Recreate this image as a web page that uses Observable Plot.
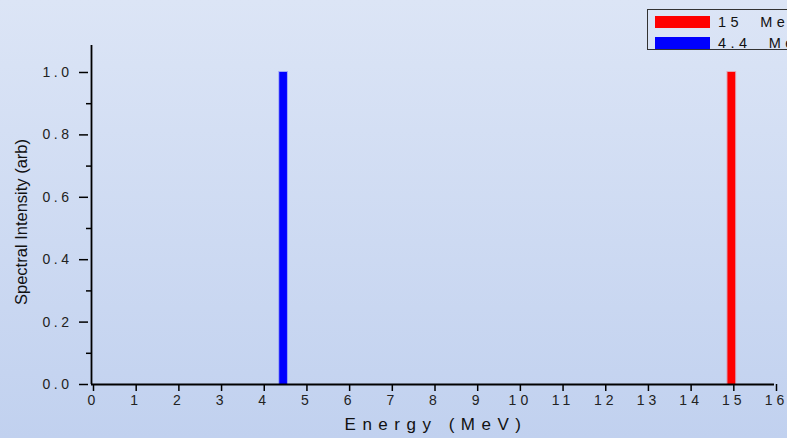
<!DOCTYPE html>
<html>
<head>
<meta charset="utf-8">
<script src="https://cdn.jsdelivr.net/npm/d3@7"></script>
<script src="https://cdn.jsdelivr.net/npm/@observablehq/plot@0.6"></script>
<style>
  html, body { margin: 0; padding: 0; width: 787px; height: 438px; overflow: hidden; }
  body { background: linear-gradient(to bottom, #dce5f6 0%, #c1d1ef 100%); font-family: "Liberation Sans", Arial, sans-serif; }
  #wrap { position: relative; width: 787px; height: 438px; overflow: hidden; }
  #chart svg { background: transparent !important; display: block; }
  g[aria-label="x-axis tick label"] text { letter-spacing: 4px; font-size: 14px !important; }
  g[aria-label="y-axis tick label"] text { letter-spacing: 3.5px; font-size: 14px !important; }
  #legend { position: absolute; left: 647px; top: 9px; width: 200px; height: 41px; border: 1px solid #333; box-sizing: border-box; }
  .item { position: absolute; left: 7px; display: flex; align-items: center; }
  .sw { width: 55px; height: 12px; margin-right: 8px; }
  .lt { font-size: 14.5px; letter-spacing: 4.5px; color: #111; white-space: pre; }
</style>
</head>
<body>
<div id="wrap">
  <div id="chart"></div>
  <div id="legend"></div>
</div>
<script>
const seriesNames = ["15  MeV", "4.4  MeV"];
const energies = [15, 4.5];
const intensities = [1.0, 1.0];
const colors = ["#ff0000", "#0000ff"];
const xTicks = [0,1,2,3,4,5,6,7,8,9,10,11,12,13,14,15,16];
const yTicks = [0, 0.2, 0.4, 0.6, 0.8, 1.0];
const yMinorTicks = [0.1, 0.3, 0.5, 0.7, 0.9];
const xLabel = "Energy (MeV)";
const yLabel = "Spectral Intensity (arb)";
const halfWidth = 0.09;

const data = seriesNames.map((name, i) => ({name, e: energies[i], v: intensities[i], c: colors[i]}));

const chart = Plot.plot({
  width: 787,
  height: 438,
  marginLeft: 91,
  marginRight: 13,
  marginTop: 45,
  marginBottom: 54,
  style: {background: "transparent", fontFamily: "'Liberation Sans', Arial, sans-serif", color: "#222"},
  x: {domain: [0, 16]},
  y: {domain: [0, 1.0865]},
  marks: [
    Plot.rect(data, {x1: d => d.e - halfWidth, x2: d => d.e + halfWidth, y1: 0, y2: "v", fill: "c", stroke: "c", strokeOpacity: 0.25, strokeWidth: 2}),
    Plot.axisX({ticks: xTicks, tickSize: 7, tickPadding: 4, tickFormat: d => String(d), label: null, stroke: "#000", strokeWidth: 1.5, dx: 2}),
    Plot.axisY({ticks: yTicks, tickSize: 9, tickPadding: 7, tickFormat: d3.format(".1f"), label: null, stroke: "#000", strokeWidth: 1.5, dx: -3}),
    Plot.axisY({ticks: yMinorTicks, tickSize: 5, text: null, label: null, stroke: "#000", strokeWidth: 1.5}),
    Plot.ruleY([0], {stroke: "#000", strokeWidth: 1.8}),
    Plot.ruleX([0], {stroke: "#000", strokeWidth: 1.8}),
    Plot.text([xLabel], {frameAnchor: "bottom", dy: 45, dx: 3, fontSize: 17, fill: "#111"}),
    Plot.text([yLabel], {frameAnchor: "left", textAnchor: "middle", dx: -70, dy: 7, rotate: -90, fontSize: 16.5, fill: "#111"})
  ]
});
d3.select(chart).selectAll("text").filter(function() { return this.textContent === xLabel; }).style("letter-spacing", "6.5px");
document.getElementById("chart").appendChild(chart);

const legend = document.getElementById("legend");
data.forEach((d, i) => {
  const item = document.createElement("div");
  item.className = "item";
  item.style.top = (i === 0 ? 4 : 25) + "px";
  const sw = document.createElement("div");
  sw.className = "sw";
  sw.style.background = d.c;
  const lt = document.createElement("span");
  lt.className = "lt";
  lt.textContent = d.name;
  item.appendChild(sw);
  item.appendChild(lt);
  legend.appendChild(item);
});
</script>
</body>
</html>
